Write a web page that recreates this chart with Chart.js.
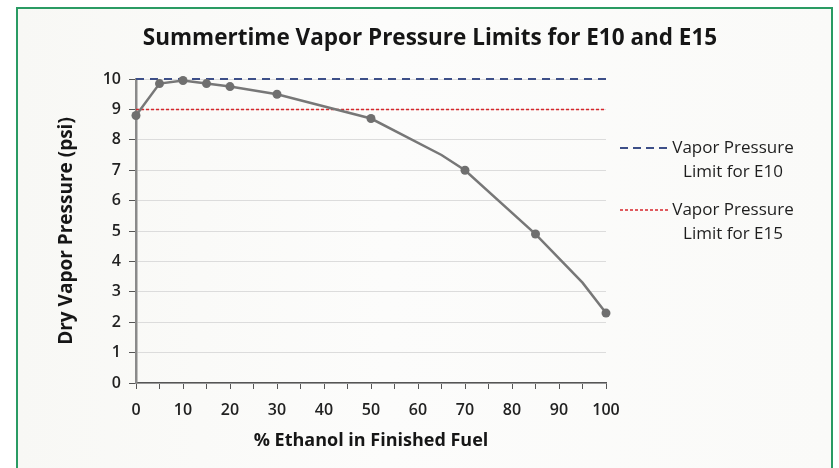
<!DOCTYPE html>
<html><head><meta charset="utf-8">
<script src="https://cdn.jsdelivr.net/npm/chart.js@4.4.1/dist/chart.umd.min.js"></script>
<style>
html,body{margin:0;padding:0;background:#fff;width:839px;height:468px;overflow:hidden}
#frame{position:absolute;left:16px;top:7px;width:817px;height:475px;border:2px solid #2a9b63;box-sizing:border-box;background:linear-gradient(90deg,#f8f8f5 0%,#fcfcfb 45%,#fafaf8 100%)}
#wrap{position:absolute;left:0;top:0;width:839px;height:468px}
</style></head><body>
<div id="frame"></div>
<div id="wrap"><canvas id="c" width="839" height="468"></canvas></div>
<script>
// ---- data ----
const ethanolPct    = [0, 5, 10, 15, 20, 30, 50, 65, 70, 85, 95, 100];
const vaporPressure = [8.8, 9.85, 9.95, 9.85, 9.75, 9.5, 8.7, 7.5, 7.0, 4.9, 3.3, 2.3];
const markerShown   = [1, 1, 1, 1, 1, 1, 1, 0, 1, 1, 0, 1];
const limitE10 = 10;
const limitE15 = 9;
const xRange = [0, 100];
const yRange = [0, 10];
const chartTitle = 'Summertime Vapor Pressure Limits for E10 and E15';
const xTitle = '% Ethanol in Finished Fuel';
const yTitle = 'Dry Vapor Pressure (psi)';
const legendE10 = ['Vapor Pressure', 'Limit for E10'];
const legendE15 = ['Vapor Pressure', 'Limit for E15'];

const FONT = '"Open Sans", Lato, sans-serif';
const BLUE = '#3d4f88';
const RED = '#d8262b';
const GREY = '#777777';

const mainPts = ethanolPct.map((x, i) => ({x, y: vaporPressure[i]}));
const e10Pts = xRange.map(x => ({x, y: limitE10}));
const e15Pts = xRange.map(x => ({x, y: limitE15}));

const textPlugin = {
  id: 'textExtras',
  afterDraw(chart) {
    const ctx = chart.ctx;
    ctx.save();
    // title
    ctx.fillStyle = '#161616';
    ctx.font = 'bold 22.5px ' + FONT;
    ctx.textAlign = 'center';
    ctx.textBaseline = 'middle';
    ctx.fillText(chartTitle, 430, 39);
    // legend
    const items = [
      {lines: legendE10, color: BLUE, dash: [8, 5], width: 2.2, y: 148},
      {lines: legendE15, color: RED, dash: [3, 2], width: 1.5, y: 210}
    ];
    items.forEach(it => {
      ctx.beginPath();
      ctx.setLineDash(it.dash);
      ctx.strokeStyle = it.color;
      ctx.lineWidth = it.width;
      ctx.moveTo(620, it.y);
      ctx.lineTo(670, it.y);
      ctx.stroke();
      ctx.setLineDash([]);
      ctx.fillStyle = '#1e1e1e';
      ctx.font = '17px ' + FONT;
      ctx.textAlign = 'center';
      ctx.textBaseline = 'middle';
      it.lines.forEach((t, k) => ctx.fillText(t, 733, it.y + k * 24));
    });
    ctx.restore();
  }
};

new Chart(document.getElementById('c'), {
  type: 'line',
  data: {
    datasets: [
      {
        data: mainPts,
        borderColor: GREY,
        backgroundColor: '#6f6f6f',
        borderWidth: 2.5,
        pointRadius: markerShown.map(m => m ? 4.5 : 0),
        pointBorderWidth: 0,
        tension: 0,
        clip: false
      },
      {
        data: e10Pts,
        borderColor: BLUE,
        borderWidth: 2.2,
        borderDash: [8, 6],
        pointRadius: 0,
        clip: false
      },
      {
        data: e15Pts,
        borderColor: RED,
        borderWidth: 1.5,
        borderDash: [3, 2],
        pointRadius: 0,
        clip: false
      }
    ]
  },
  options: {
    responsive: false,
    animation: false,
    devicePixelRatio: 1,
    layout: {padding: {top: 79, left: 50, right: 233, bottom: 0}},
    plugins: {
      legend: {display: false},
      tooltip: {enabled: false},
      title: {display: false}
    },
    scales: {
      x: {
        type: 'linear',
        min: xRange[0],
        max: xRange[1],
        afterFit(s) { s.height = 85; },
        border: {display: true, color: '#555', width: 1.5},
        grid: {drawOnChartArea: false, tickLength: 6, color: '#555', tickColor: '#555'},
        ticks: {
          stepSize: 5,
          autoSkip: false,
          maxRotation: 0,
          padding: 12,
          color: '#222',
          font: {family: FONT, size: 16, weight: '600'},
          callback: v => (v % 10 === 0 ? String(v) : '')
        },
        title: {
          display: true,
          text: xTitle,
          color: '#161616',
          font: {family: FONT, size: 18, weight: 'bold'},
          padding: {top: 0, bottom: 16}
        }
      },
      y: {
        min: yRange[0],
        max: yRange[1],
        afterFit(s) { s.width = 86; },
        border: {display: true, color: '#8a8a8a', width: 2.5},
        grid: {color: '#dcdcdc', lineWidth: 1, tickLength: 7, tickColor: '#555'},
        ticks: {
          stepSize: 1,
          padding: 8,
          color: '#222',
          font: {family: FONT, size: 16, weight: '600'}
        },
        title: {
          display: true,
          text: yTitle,
          color: '#161616',
          font: {family: FONT, size: 19, weight: 'bold'},
          padding: {top: 5, bottom: 0}
        }
      }
    }
  },
  plugins: [textPlugin]
});
</script>
</body></html>
